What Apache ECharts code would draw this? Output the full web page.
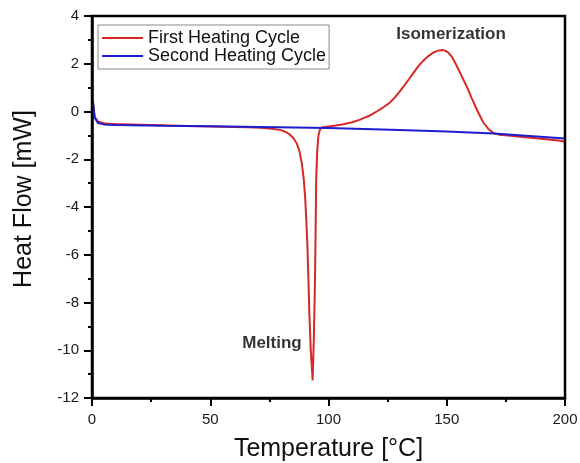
<!DOCTYPE html>
<html><head><meta charset="utf-8">
<script src="https://cdn.jsdelivr.net/npm/echarts@6/dist/echarts.min.js"></script>
<style>html,body{margin:0;padding:0;background:#fff}#c{width:580px;height:463px}</style>
</head><body><div id="c"></div>
<script>
const redT = [0,0.4,1.1,2.5,5,7,10,20,30,40,50,60,66,71,75,79.5,82,83.7,85.2,86.5,87.7,88.7,89.5,90.1,90.6,91.1,91.5,91.9,92.5,93.3,93.8,94.3,94.6,94.8,95.2,95.7,96.3,97.1,100,103,106.3,110,113.4,115,117,119,120.4,122,124,126,128,130,132,134,136,138,140,142,144,146,147.9,149.3,150.7,152.1,153.5,155.6,158.4,160.5,163,165.4,167.5,169.7,172,176,180,190,197,199,200];
const redV = [0.17,0.43,-0.22,-0.42,-0.49,-0.51,-0.52,-0.55,-0.58,-0.61,-0.63,-0.65,-0.66,-0.68,-0.71,-0.77,-0.86,-0.97,-1.12,-1.32,-1.65,-2.16,-2.8,-3.56,-4.5,-5.66,-7.0,-8.45,-10.0,-11.26,-9.5,-7.06,-4.6,-2.86,-1.7,-1.04,-0.78,-0.67,-0.63,-0.59,-0.53,-0.45,-0.34,-0.27,-0.19,-0.08,0.0,0.1,0.23,0.38,0.58,0.82,1.08,1.35,1.63,1.9,2.12,2.3,2.45,2.54,2.58,2.55,2.47,2.3,2.05,1.63,1.06,0.57,0.02,-0.45,-0.72,-0.9,-0.97,-1.01,-1.05,-1.14,-1.21,-1.24,-1.3];
const blueT = [0,0.4,1.1,2.5,5,7,10,30,50,71,100,130,150,170,200];
const blueV = [0.15,0.45,-0.25,-0.48,-0.54,-0.56,-0.57,-0.6,-0.62,-0.65,-0.69,-0.77,-0.84,-0.92,-1.13];
const seriesNames = ['First Heating Cycle','Second Heating Cycle'];
const annotationNames = ['Isomerization','Melting'];
const annotationT = [151.8,76.1];
const annotationV = [3.25,-9.7];

const chart = echarts.init(document.getElementById('c'));
const zip = (a,b)=>a.map((v,i)=>[v,b[i]]);
const font = 'Liberation Sans, Arial, sans-serif';
const axisCommon = {
  axisLine:{show:true,onZero:false,lineStyle:{color:'#000',width:2.5}},
  axisTick:{show:true,inside:false,length:8,lineStyle:{color:'#000',width:2}},
  minorTick:{show:true,splitNumber:2,length:4,lineStyle:{color:'#000',width:2}},
  splitLine:{show:false}
};
chart.setOption({
  animation:false,
  grid:{left:92,right:15,top:16,bottom:65,containLabel:false,outerBoundsMode:'none'},
  legend:{
    data:seriesNames, orient:'vertical', left:98, top:25,
    icon:'rect', itemWidth:41, itemHeight:2, itemGap:0,
    borderColor:'#888', borderWidth:1, borderRadius:0, padding:[4,3,4,4],
    backgroundColor:'#fff',
    textStyle:{fontFamily:font,fontSize:18,lineHeight:15,color:'#111'}
  },
  xAxis:Object.assign({
    type:'value', min:0, max:200, interval:50,
    name:'Temperature [°C]', nameLocation:'middle', nameGap:39,
    nameTextStyle:{fontFamily:font,fontSize:25,color:'#111'},
    axisLabel:{fontFamily:font,fontSize:15,color:'#1a1a1a',margin:14}
  },axisCommon),
  yAxis:Object.assign({
    type:'value', min:-12, max:4, interval:2,
    name:'Heat Flow [mW]', nameLocation:'middle', nameGap:55, nameRotate:90,
    nameTextStyle:{fontFamily:font,fontSize:25,color:'#111',padding:[0,0,0,16]},
    axisLabel:{fontFamily:font,fontSize:15,color:'#1a1a1a',margin:13}
  },axisCommon),
  series:[
    {name:seriesNames[0],type:'line',data:zip(redT,redV),symbol:'none',
     lineStyle:{color:'#d82828',width:2},itemStyle:{color:'#d82828'},z:3},
    {name:seriesNames[1],type:'line',data:zip(blueT,blueV),symbol:'none',
     lineStyle:{color:'#1c1cd0',width:2},itemStyle:{color:'#1c1cd0'},z:4},
    {name:'annotations',type:'scatter',symbolSize:0,silent:true,z:5,
     data:annotationNames.map((n,i)=>({name:n,value:[annotationT[i],annotationV[i]]})),
     label:{show:true,position:'inside',formatter:p=>p.name,fontFamily:font,fontSize:17,fontWeight:'bold',color:'#000'}}
  ]
});
const g = chart.getModel().getComponent('grid').coordinateSystem.getRect();
chart.setOption({graphic:[{type:'rect',shape:{x:g.x,y:g.y,width:g.width,height:g.height},style:{fill:'none',stroke:'#000',lineWidth:2.5},silent:true,z:10}]});
</script></body></html>
